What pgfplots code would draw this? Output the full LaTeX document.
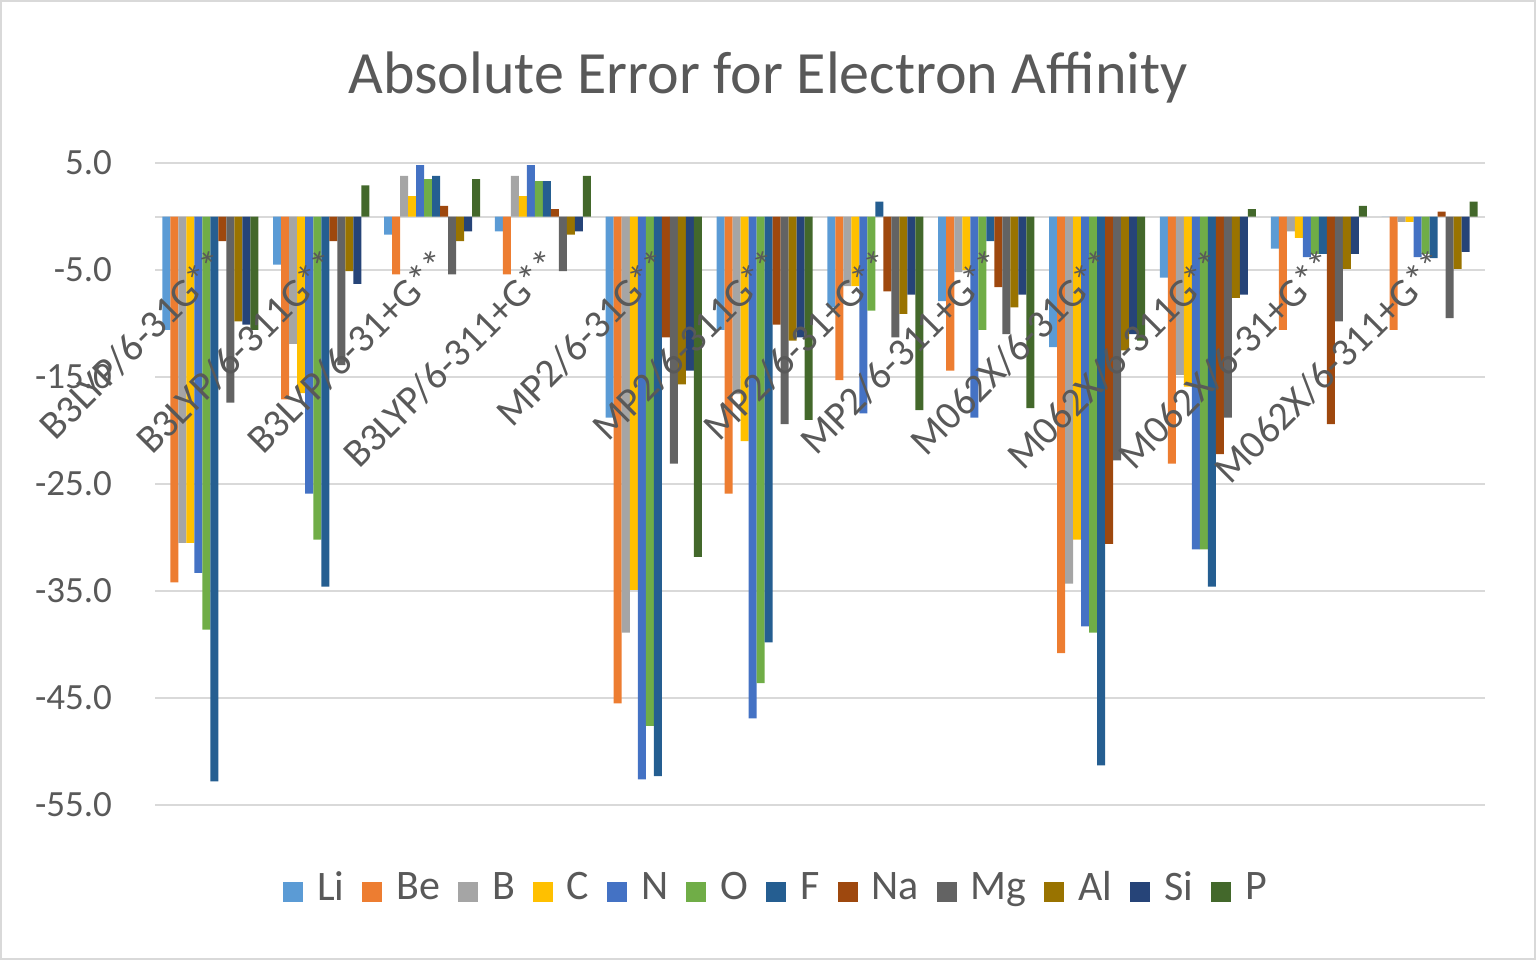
\documentclass[border=0pt]{standalone}
\usepackage{pgfplots}
\pgfplotsset{compat=1.18}
\usepackage{fontspec}
\setmainfont{Carlito}
\definecolor{cLi}{HTML}{5B9BD5}
\definecolor{cBe}{HTML}{ED7D31}
\definecolor{cB}{HTML}{A5A5A5}
\definecolor{cC}{HTML}{FFC000}
\definecolor{cN}{HTML}{4472C4}
\definecolor{cO}{HTML}{70AD47}
\definecolor{cF}{HTML}{255E91}
\definecolor{cNa}{HTML}{9E480E}
\definecolor{cMg}{HTML}{636363}
\definecolor{cAl}{HTML}{997300}
\definecolor{cSi}{HTML}{264478}
\definecolor{cP}{HTML}{43682B}
\definecolor{txt}{HTML}{595959}
\definecolor{gridc}{HTML}{D9D9D9}
\pgfplotsset{
  frame/.style={at={(77.5pt,77.5pt)}, anchor=south west,
    scale only axis, width=665pt, height=321pt,
    ymin=-55, ymax=5, xmin=-0.5, xmax=11.5, major tick length=0pt},
}
\begin{document}
\begin{tikzpicture}
\path[use as bounding box] (0,0) rectangle (768pt,480pt);
\draw[gridc, line width=1pt] (0.5pt,0.5pt) rectangle (767.5pt,479.5pt);
\node[text=txt, font=\fontsize{30}{36}\selectfont] at (384pt,441pt) {Absolute Error for Electron Affinity};
\begin{axis}[
  frame,
  ytick={-55,-45,...,5},
  xtick={0,...,11}, xticklabels={},
  ybar=0pt, bar width=0.0722,
  axis x line=middle, axis y line=left,
  x axis line style={draw=gridc, line width=1pt, -},
  y axis line style={draw=none},
  ymajorgrids, grid style={draw=gridc, line width=1pt},
  /pgf/number format/assume math mode=true,
  yticklabel style={/pgf/number format/fixed, /pgf/number format/fixed zerofill, /pgf/number format/precision=1, font=\fontsize{18.5}{22}\selectfont, text=txt, xshift=-18pt},
  legend style={at={(0.4677,-0.129)}, anchor=center, draw=none, fill=none, legend columns=12, font=\fontsize{21}{25}\selectfont, text=txt, /tikz/every odd column/.append style={column sep=5pt}, /tikz/every even column/.append style={column sep=7pt}},
  legend image code/.code={\fill[#1] (0pt,-7pt) rectangle (10pt,3pt);},
  every axis plot/.append style={draw=none},
]
\addplot[fill=cLi] coordinates {(0,-10.6) (1,-4.5) (2,-1.7) (3,-1.4) (4,-18.8) (5,-10.6) (6,-8.5) (7,-7.9) (8,-12.2) (9,-5.7) (10,-3.0) (11,0)};
\addplot[fill=cBe] coordinates {(0,-34.2) (1,-17.1) (2,-5.4) (3,-5.4) (4,-45.5) (5,-25.9) (6,-15.3) (7,-14.4) (8,-40.8) (9,-23.1) (10,-10.6) (11,-10.6)};
\addplot[fill=cB] coordinates {(0,-30.5) (1,-11.9) (2,3.8) (3,3.8) (4,-38.9) (5,-16.6) (6,-6.5) (7,-5.2) (8,-34.3) (9,-14.8) (10,-1.4) (11,-0.5)};
\addplot[fill=cC] coordinates {(0,-30.5) (1,-16.5) (2,1.9) (3,1.9) (4,-34.9) (5,-21.0) (6,-6.5) (7,-5.0) (8,-30.2) (9,-15.9) (10,-2.0) (11,-0.5)};
\addplot[fill=cN] coordinates {(0,-33.3) (1,-25.9) (2,4.8) (3,4.8) (4,-52.6) (5,-46.9) (6,-18.4) (7,-18.8) (8,-38.3) (9,-31.1) (10,-3.8) (11,-3.8)};
\addplot[fill=cO] coordinates {(0,-38.6) (1,-30.2) (2,3.5) (3,3.3) (4,-47.6) (5,-43.6) (6,-8.8) (7,-10.6) (8,-38.9) (9,-31.1) (10,-3.5) (11,-3.5)};
\addplot[fill=cF] coordinates {(0,-52.8) (1,-34.6) (2,3.8) (3,3.3) (4,-52.3) (5,-39.8) (6,1.4) (7,-2.3) (8,-51.3) (9,-34.6) (10,-3.5) (11,-3.9)};
\addplot[fill=cNa] coordinates {(0,-2.3) (1,-2.3) (2,1.0) (3,0.7) (4,-11.3) (5,-10.1) (6,-7.0) (7,-6.6) (8,-30.6) (9,-22.2) (10,-19.4) (11,0.45)};
\addplot[fill=cMg] coordinates {(0,-17.4) (1,-13.9) (2,-5.4) (3,-5.1) (4,-23.1) (5,-19.4) (6,-11.3) (7,-11.0) (8,-22.8) (9,-18.8) (10,-9.8) (11,-9.5)};
\addplot[fill=cAl] coordinates {(0,-9.8) (1,-5.1) (2,-2.3) (3,-1.7) (4,-15.7) (5,-11.6) (6,-9.1) (7,-8.5) (8,-12.5) (9,-7.6) (10,-4.9) (11,-4.9)};
\addplot[fill=cSi] coordinates {(0,-10.1) (1,-6.3) (2,-1.4) (3,-1.4) (4,-14.4) (5,-11.3) (6,-7.3) (7,-7.3) (8,-11.0) (9,-7.3) (10,-3.5) (11,-3.3)};
\addplot[fill=cP] coordinates {(0,-10.6) (1,2.9) (2,3.5) (3,3.8) (4,-31.8) (5,-19.0) (6,-18.1) (7,-17.9) (8,-11.6) (9,0.7) (10,1.0) (11,1.4)};
\legend{Li, Be, B, C, N, O, F, Na, Mg, Al, Si, P}
\end{axis}
\begin{axis}[
  frame,
  axis x line=middle, axis y line=none,
  x axis line style={draw=none},
  ytick=\empty,
  xtick={0,...,11},
  xticklabels={B3LYP/6-31G**, B3LYP/6-311G**, B3LYP/6-31+G**, B3LYP/6-311+G**, MP2/6-31G**, MP2/6-311G**, MP2/6-31+G**, MP2/6-311+G**, M062X/6-31G**, M062X/6-311G**, M062X/6-31+G**, M062X/6-311+G**},
  xticklabel style={yshift=-10pt, rotate=45, anchor=north east, font=\fontsize{20}{24}\selectfont, text=txt},
]
\end{axis}
\end{tikzpicture}
\end{document}
